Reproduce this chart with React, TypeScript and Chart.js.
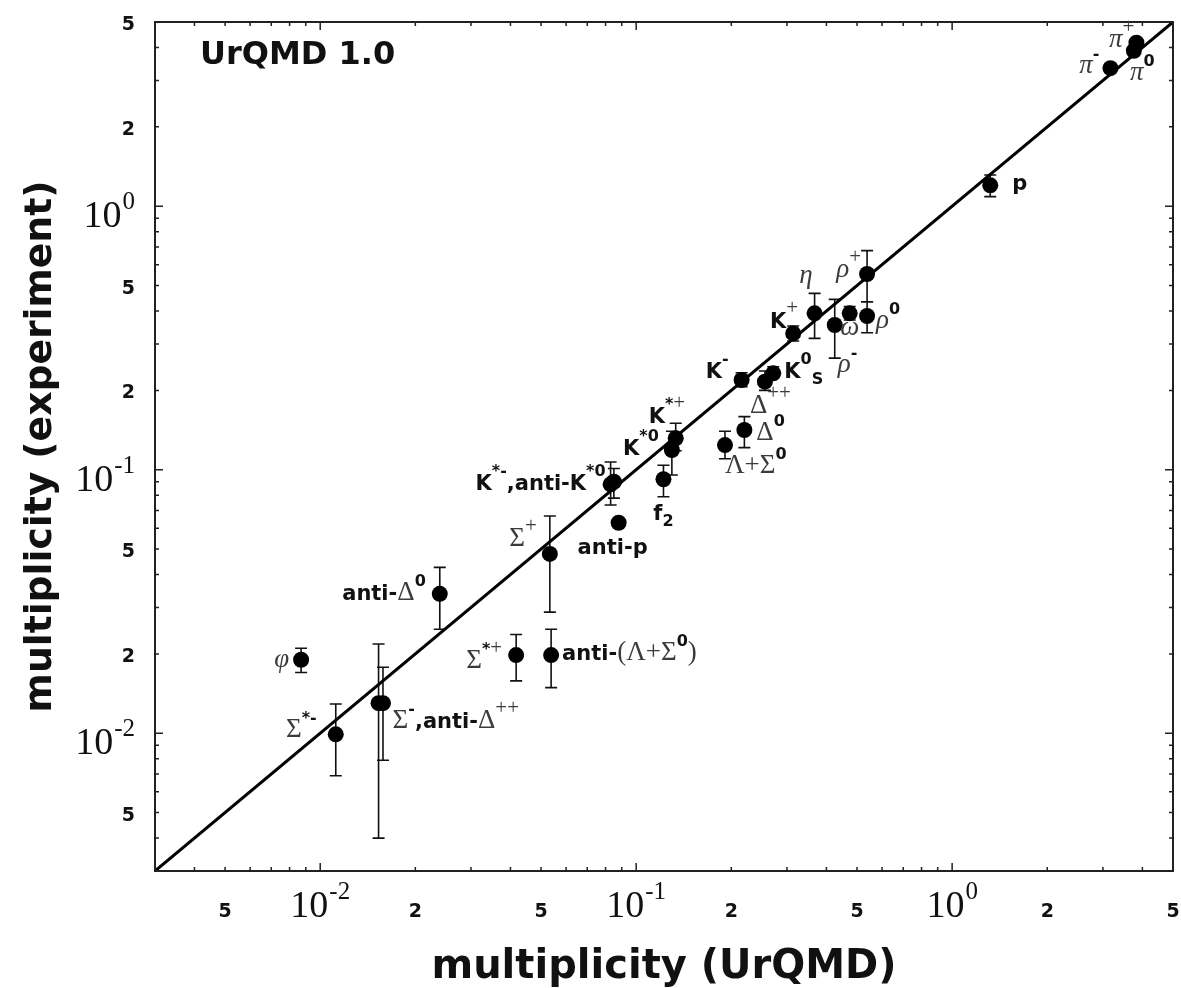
import React, { useEffect, useRef } from 'react';
import { Chart, registerables } from 'chart.js';

Chart.register(...registerables);

// ---------------- data ----------------
const particleLabels = [
  '\u03c6',
  '\u03a3^{*-}',
  '\u03a3^{-},anti-\u0394^{++}',
  '',
  'anti-\u0394^{0}',
  '\u03a3^{*+}',
  'anti-(\u039b+\u03a3^{0})',
  '\u03a3^{+}',
  'anti-p',
  'K^{*-},anti-K^{*0}',
  '',
  'f_{2}',
  'K^{*0}',
  'K^{*+}',
  '\u039b+\u03a3^{0}',
  '\u0394^{0}',
  'K^{-}',
  '\u0394^{++}',
  'K^{0}_{S}',
  'K^{+}',
  '\u03b7',
  '\u03c1^{-}',
  '\u03c9',
  '\u03c1^{0}',
  '\u03c1^{+}',
  'p',
  '\u03c0^{-}',
  '\u03c0^{0}',
  '\u03c0^{+}',
];

const urqmd = [
  0.0087, 0.0112, 0.0153, 0.0158, 0.0239, 0.0417, 0.0538, 0.0533, 0.088,
  0.083, 0.085, 0.122, 0.1297, 0.1334, 0.191, 0.22, 0.2156, 0.2555, 0.2715,
  0.314, 0.367, 0.425, 0.474, 0.538, 0.538, 1.32, 3.17, 3.76, 3.83,
];

const experiment = [
  0.019, 0.0099, 0.013, 0.013, 0.0338, 0.0198, 0.0198, 0.0479, 0.0629,
  0.088, 0.09, 0.092, 0.1188, 0.1316, 0.124, 0.1415, 0.219, 0.2158, 0.2322,
  0.329, 0.392, 0.354, 0.392, 0.383, 0.553, 1.2, 3.34, 3.89, 4.17,
];

const expLow = [
  0.017, 0.0069, 0.004, 0.0079, 0.0248, 0.0158, 0.0149, 0.0288, null,
  0.0735, 0.078, 0.079, 0.0955, 0.118, 0.11, 0.1213, 0.2066, 0.2, 0.223,
  0.308, 0.315, 0.265, 0.37, 0.331, 0.434, 1.087, 3.22, 3.75, 4.02,
];

const expHigh = [
  0.021, 0.0129, 0.0218, 0.0178, 0.0426, 0.0237, 0.0248, 0.0667, null,
  0.107, 0.101, 0.104, 0.14, 0.15, 0.14, 0.159, 0.2334, 0.237, 0.246,
  0.351, 0.467, 0.443, 0.416, 0.434, 0.678, 1.314, 3.46, 4.03, 4.32,
];

const axisMin = 0.003;
const axisMax = 5;
const axisTickValues = [0.005, 0.01, 0.02, 0.05, 0.1, 0.2, 0.5, 1, 2, 5];
const axisTickLabels = ['5', '10^{-2}', '2', '5', '10^{-1}', '2', '5', '10^{0}', '2', '5'];
const xTitle = 'multiplicity (UrQMD)';
const yTitle = 'multiplicity (experiment)';
const modelTag = 'UrQMD 1.0';
const diagonal = [
  { x: axisMin, y: axisMin },
  { x: axisMax, y: axisMax },
];

// label placement relative to the point: [align, dx, dy(baseline)]
const labelLayout: [string, number, number][] = [
  ['r', -12, 7],
  ['r', -19, 3],
  ['l', 14, 25],
  ['l', 0, 0],
  ['r', -14, 6],
  ['r', -14, 13],
  ['l', 11, 5],
  ['r', -13, -8],
  ['c', -6, 31],
  ['r', -5, 6],
  ['l', 0, 0],
  ['c', 0, 41],
  ['r', -13, 5],
  ['l', -27, -15],
  ['l', 0, 28],
  ['l', 12, 10],
  ['r', -13, -2],
  ['l', -15, 31],
  ['l', 11, 5],
  ['r', 5, -5],
  ['r', -2, -30],
  ['l', 3, 47],
  ['c', 0, 22],
  ['l', 9, 12],
  ['r', -6, 3],
  ['l', 22, 5],
  ['r', -11, 5],
  ['l', -4, 29],
  ['r', -2, 4],
];

// ---------------- drawing helpers ----------------
const SANS = '"DejaVu Sans", sans-serif';
const SERIF = '"Liberation Serif", "DejaVu Serif", serif';
const INK = '#111111';
const GREEK = '#3c3c3c';

function isGreek(c: string) {
  const k = c.codePointAt(0) || 0;
  return k >= 0x370 && k <= 0x3ff;
}

type Run = { c: string; font: string; color: string; x: number; dy: number };

function layoutRich(ctx: CanvasRenderingContext2D, s: string, sansPx: number, serifPx: number, raise: number, drop: number) {
  const runs: Run[] = [];
  let mode = 0;
  let x = 0;
  for (let i = 0; i < s.length; i++) {
    const c = s[i];
    if ((c === '^' || c === '_') && s[i + 1] === '{') {
      mode = c === '^' ? 1 : -1;
      i++;
      continue;
    }
    if (c === '}' && mode !== 0) {
      mode = 0;
      continue;
    }
    const sc = mode === 0 ? 1 : 0.76;
    let font: string;
    let color: string;
    if (isGreek(c)) {
      const lower = c === c.toLowerCase() && c !== c.toUpperCase();
      font = `${lower ? 'italic ' : ''}${Math.round(serifPx * sc)}px ${SERIF}`;
      color = GREEK;
    } else if ('+()'.includes(c)) {
      font = `${Math.round(serifPx * sc)}px ${SERIF}`;
      color = GREEK;
    } else {
      font = `bold ${Math.round(sansPx * sc)}px ${SANS}`;
      color = INK;
    }
    ctx.font = font;
    const w = ctx.measureText(c).width;
    runs.push({ c, font, color, x, dy: mode === 1 ? -raise : mode === -1 ? drop : 0 });
    x += w;
  }
  return { runs, width: x };
}

function drawRuns(ctx: CanvasRenderingContext2D, runs: Run[], x0: number, y0: number) {
  ctx.textAlign = 'left';
  ctx.textBaseline = 'alphabetic';
  for (const r of runs) {
    ctx.font = r.font;
    ctx.fillStyle = r.color;
    ctx.fillText(r.c, x0 + r.x, y0 + r.dy);
  }
}

// tick label: plain digit in bold sans, power of ten in serif with superscript
function tickLabelRuns(ctx: CanvasRenderingContext2D, s: string) {
  const m = s.match(/^10\^\{(.*)\}$/);
  if (!m) {
    const font = `bold 19px ${SANS}`;
    ctx.font = font;
    return { runs: [{ c: s, font, color: INK, x: 0, dy: 0 }], width: ctx.measureText(s).width };
  }
  const f1 = `38px ${SERIF}`;
  const f2 = `25px ${SERIF}`;
  ctx.font = f1;
  const w1 = ctx.measureText('10').width;
  ctx.font = f2;
  const w2 = ctx.measureText(m[1]).width;
  return {
    runs: [
      { c: '10', font: f1, color: INK, x: 0, dy: 0 },
      { c: m[1], font: f2, color: INK, x: w1 + 1, dy: -18 },
    ],
    width: w1 + 1 + w2,
  };
}

const errorBarPlugin = {
  id: 'errorBars',
  beforeDatasetsDraw(chart: any) {
    const ctx: CanvasRenderingContext2D = chart.ctx;
    const xs = chart.scales.x;
    const ys = chart.scales.y;
    ctx.save();
    ctx.strokeStyle = '#111';
    ctx.lineWidth = 1.6;
    for (let i = 0; i < urqmd.length; i++) {
      const lo = expLow[i];
      const hi = expHigh[i];
      if (lo == null || hi == null) continue;
      const px = xs.getPixelForValue(urqmd[i]);
      const pLo = ys.getPixelForValue(lo);
      const pHi = ys.getPixelForValue(hi);
      ctx.beginPath();
      ctx.moveTo(px, pLo);
      ctx.lineTo(px, pHi);
      ctx.moveTo(px - 6, pLo);
      ctx.lineTo(px + 6, pLo);
      ctx.moveTo(px - 6, pHi);
      ctx.lineTo(px + 6, pHi);
      ctx.stroke();
    }
    ctx.restore();
  },
};

const decorPlugin = {
  id: 'decor',
  afterDraw(chart: any) {
    const ctx: CanvasRenderingContext2D = chart.ctx;
    const { left, right, top, bottom } = chart.chartArea;
    const xs = chart.scales.x;
    const ys = chart.scales.y;
    ctx.save();

    // frame
    ctx.strokeStyle = '#222';
    ctx.lineWidth = 2;
    ctx.strokeRect(left, top, right - left, bottom - top);

    // ticks on all four sides
    ctx.lineWidth = 1.5;
    ctx.beginPath();
    for (let e = -3; e <= 0; e++) {
      for (let m = 1; m <= 9; m++) {
        const v = m * Math.pow(10, e);
        if (v < axisMin * 0.999 || v > axisMax * 1.001) continue;
        const len = m === 1 ? 8 : 4;
        const px = xs.getPixelForValue(v);
        const py = ys.getPixelForValue(v);
        ctx.moveTo(px, bottom);
        ctx.lineTo(px, bottom - len);
        ctx.moveTo(px, top);
        ctx.lineTo(px, top + len);
        ctx.moveTo(left, py);
        ctx.lineTo(left + len, py);
        ctx.moveTo(right, py);
        ctx.lineTo(right - len, py);
      }
    }
    ctx.stroke();

    // tick labels
    for (let i = 0; i < axisTickValues.length; i++) {
      const v = axisTickValues[i];
      const lab = axisTickLabels[i];
      const { runs, width } = tickLabelRuns(ctx, lab);
      const px = xs.getPixelForValue(v);
      drawRuns(ctx, runs, px - width / 2, bottom + 46);
      const py = ys.getPixelForValue(v);
      const isPow = runs.length > 1;
      drawRuns(ctx, runs, left - 20 - width, py + (isPow ? 21 : 8));
    }

    // axis titles
    ctx.fillStyle = INK;
    ctx.font = `bold 40px ${SANS}`;
    ctx.textAlign = 'center';
    ctx.textBaseline = 'alphabetic';
    ctx.fillText(xTitle, (left + right) / 2, bottom + 107);
    ctx.save();
    ctx.font = `bold 37.7px ${SANS}`;
    ctx.translate(left - 104, (top + bottom) / 2);
    ctx.rotate(-Math.PI / 2);
    ctx.fillText(yTitle, 0, 0);
    ctx.restore();

    // model tag
    ctx.font = `bold 32px ${SANS}`;
    ctx.textAlign = 'left';
    ctx.fillText(modelTag, left + 45, top + 42);

    // particle labels
    for (let i = 0; i < particleLabels.length; i++) {
      const s = particleLabels[i];
      if (!s) continue;
      const [align, dx, dy] = labelLayout[i];
      const { runs, width } = layoutRich(ctx, s, 21, 27, 14, 6);
      const px = xs.getPixelForValue(urqmd[i]) + dx;
      const py = ys.getPixelForValue(experiment[i]) + dy;
      const x0 = align === 'r' ? px - width : align === 'c' ? px - width / 2 : px;
      drawRuns(ctx, runs, x0, py);
    }

    ctx.restore();
  },
};

export default function App() {
  const ref = useRef<HTMLCanvasElement | null>(null);
  useEffect(() => {
    if (!ref.current) return;
    const points = urqmd.map((x, i) => ({ x, y: experiment[i] }));
    const chart = new Chart(ref.current, {
      type: 'scatter',
      data: {
        datasets: [
          {
            type: 'scatter',
            data: points,
            pointRadius: 8,
            pointHoverRadius: 8,
            pointBackgroundColor: '#000',
            pointBorderWidth: 0,
            borderColor: '#000',
          } as any,
          {
            type: 'line',
            data: diagonal,
            borderColor: '#000',
            borderWidth: 3,
            pointRadius: 0,
            fill: false,
            tension: 0,
          } as any,
        ],
      },
      options: {
        responsive: false,
        animation: false,
        events: [],
        layout: { padding: { left: 155, right: 5, top: 22, bottom: 117 } },
        scales: {
          x: { type: 'logarithmic', min: axisMin, max: axisMax, display: false },
          y: { type: 'logarithmic', min: axisMin, max: axisMax, display: false },
        },
        plugins: { legend: { display: false }, tooltip: { enabled: false } },
      } as any,
      plugins: [errorBarPlugin, decorPlugin],
    });
    return () => chart.destroy();
  }, []);
  return (
    <div style={{ position: 'absolute', left: 0, top: 0, width: 1181, height: 988, background: '#fff' }}>
      <canvas ref={ref} width={1181} height={988} style={{ display: 'block' }} />
    </div>
  );
}
